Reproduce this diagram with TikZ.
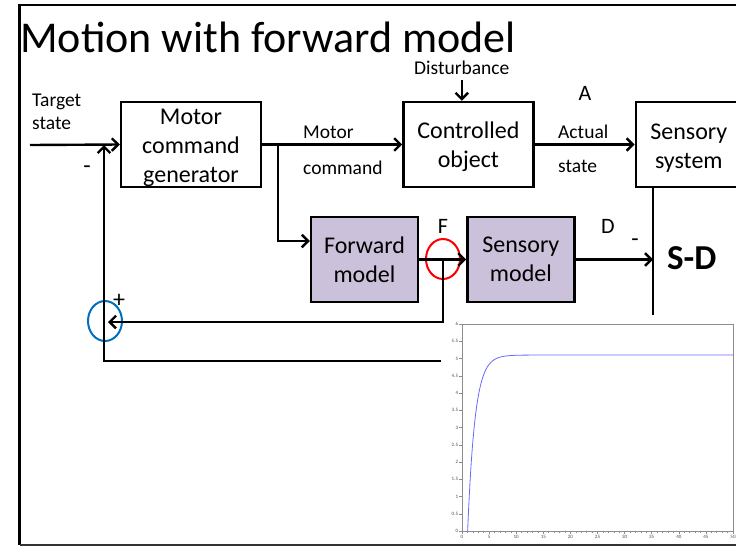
\documentclass[tikz,border=0pt]{standalone}
\usepackage{fontspec}
\setmainfont{Carlito}
\usetikzlibrary{positioning,calc,arrows.meta,shapes.geometric}

\definecolor{modelfill}{RGB}{204,193,218}
\definecolor{sumblue}{RGB}{0,112,192}
\definecolor{curveblue}{RGB}{105,105,255}
\definecolor{axisgray}{gray}{0.55}

% taller first line, pushes block text a little down
\newcommand{\topstrut}{\rule{0pt}{22pt}}

\begin{document}
\begin{tikzpicture}[
    x=1pt, y=-1pt,
    blk/.style={rectangle, draw=black, line width=2.4pt, minimum width=#1, minimum height=85pt, align=center, inner sep=0pt, font=\fontsize{24}{29}\selectfont},
    blk/.default={130pt},
    mdl/.style={blk=107pt, fill=modelfill},
    lbl/.style={inner sep=0pt, anchor=base west, font=\fontsize{19.5}{23}\selectfont},
    signlbl/.style={inner sep=0pt, font=\fontsize{24}{29}\selectfont},
    conn/.style={line width=2.4pt},
    sumnode/.style={ellipse, line width=2pt, minimum width=34pt, minimum height=40pt, inner sep=0pt},
    ticklbl/.style={inner sep=0.5pt, text=black!70, font=\fontsize{5}{6}\selectfont},
    ]
    \useasboundingbox (0,0) rectangle (736,547);
    \clip (0,0) rectangle (736,547);

    %%% slide frame and title %%%
    \draw[line width=2.2pt] (740,5) -- (19.5,5) -- (19.5,545);
    \draw[line width=1.5pt, black!80] (19.5,545) -- (740,545);
    \node[lbl, font=\fontsize{44}{50}\selectfont] (title) at (20,52) {Motion with forward model};

    %% main loop blocks
    \node[blk=140pt] (gen) at (191,144.5) {\topstrut Motor\\command\\generator};
    \node[blk, right=140pt of gen] (ctrl) {\topstrut Controlled\\object};
    \node[blk=106pt, right=100pt of ctrl] (sens) {\topstrut Sensory\\system};

    %% internal models
    \node[mdl] (fwd) at (364.5,259.5) {Forward\\model};
    \node[mdl, right=47pt of fwd] (smod) {Sensory\\model};

    %% comparators
    \node[sumnode, draw=sumblue] (sumB) at (105,321) {};
    \node[sumnode, draw=red] (sumF) at (443,259) {};

    %% junction points
    \coordinate (tin) at (30,145);
    \coordinate (jm) at (278,145);
    \coordinate (jf) at (278,241);
    \coordinate (sd) at (653,315);
    \coordinate (fb1) at (443,322);
    \coordinate (fbin) at (108,322);
    \coordinate (fb2) at (441,361);
    \coordinate (fbc) at (104,361);

    %% labels
    \node[lbl] (tgtA) at (32,106) {Target};
    \node[lbl] (tgtB) at (32,129) {state};
    \node[lbl] (mcA) at (303,138) {Motor};
    \node[lbl] (mcB) at (303,174) {command};
    \node[lbl] (dist) at (414,74.5) {Disturbance};
    \node[lbl] (asA) at (558,138) {Actual};
    \node[lbl] (asB) at (558,172) {state};
    \node[lbl, anchor=base, font=\fontsize{22}{26}\selectfont] (lA) at (585,100) {A};
    \node[lbl, anchor=base, font=\fontsize{22}{26}\selectfont] (lF) at (443,233) {F};
    \node[lbl, anchor=base, font=\fontsize{22}{26}\selectfont] (lD) at (608,233) {D};
    \node[lbl, font=\bfseries\fontsize{35}{40}\selectfont] (lSD) at (667,269) {S-D};
    \node[signlbl] (mGen) at (87,170) {-};
    \node[signlbl] (pSum) at (119,301) {+};
    \node[signlbl] (mSD) at (635,243) {-};

    %%% forward path %%%
    \draw[-{Straight Barb[]}, conn]   (tin) -- (gen.west);
    \draw[-{Straight Barb[]}, conn]   (gen) -- (ctrl);
    \draw[-{Straight Barb[]}, conn]   ([yshift=-5pt]dist.south) -- (dist.south |- ctrl.north);
    \draw[-{Straight Barb[]}, conn]   (ctrl) -- (sens);
    \draw[conn]                       (sens.south -| sd) -- (sd);

    % efference copy to the models
    \draw[-{Straight Barb[]}, conn]   (jm) -- (jf) -- (jf -| fwd.west);
    \draw[-{Straight Barb[]}, conn]   (fwd) -- (smod);
    \draw[-{Straight Barb[]}, conn]   (smod) -- (smod -| sd);

    %%% feedback paths %%%
    \draw[-{Straight Barb[]}, conn]   (sumF.center |- fwd) -- (fb1) -- (fbin);
    \draw[-{Straight Barb[]}, conn]   (fb2) -- (fbc) -- (fbc |- tin);

    %% response plot
    \begin{scope}[shift={(462,531)}, x=5.42pt, y=34.5pt]
        \draw[axisgray, line width=0.6pt] (0,0) rectangle (50,6);
        \foreach \v in {0,0.5,1,1.5,2,2.5,3,3.5,4,4.5,5,5.5,6} {
            \draw[axisgray, line width=0.5pt] (0,\v) -- ++(-0.5,0);
            \node[ticklbl, anchor=east] at (-0.6,\v) {\v};
        }
        \foreach \t in {1,...,49}
            \draw[axisgray, line width=0.5pt] (\t,0) -- ++(0,-0.06);
        \foreach \t in {0,5,...,50} {
            \draw[axisgray, line width=0.5pt] (\t,0) -- ++(0,-0.1);
            \node[ticklbl, anchor=north] at (\t,-0.1) {\t};
        }
        \draw[curveblue, line width=0.8pt] plot[domain=1.04:14, samples=90, smooth] (\x, {5.1*(1-exp(-(\x-1.04)/1.35))}) -- (50,5.1);
    \end{scope}
\end{tikzpicture}
\end{document}
